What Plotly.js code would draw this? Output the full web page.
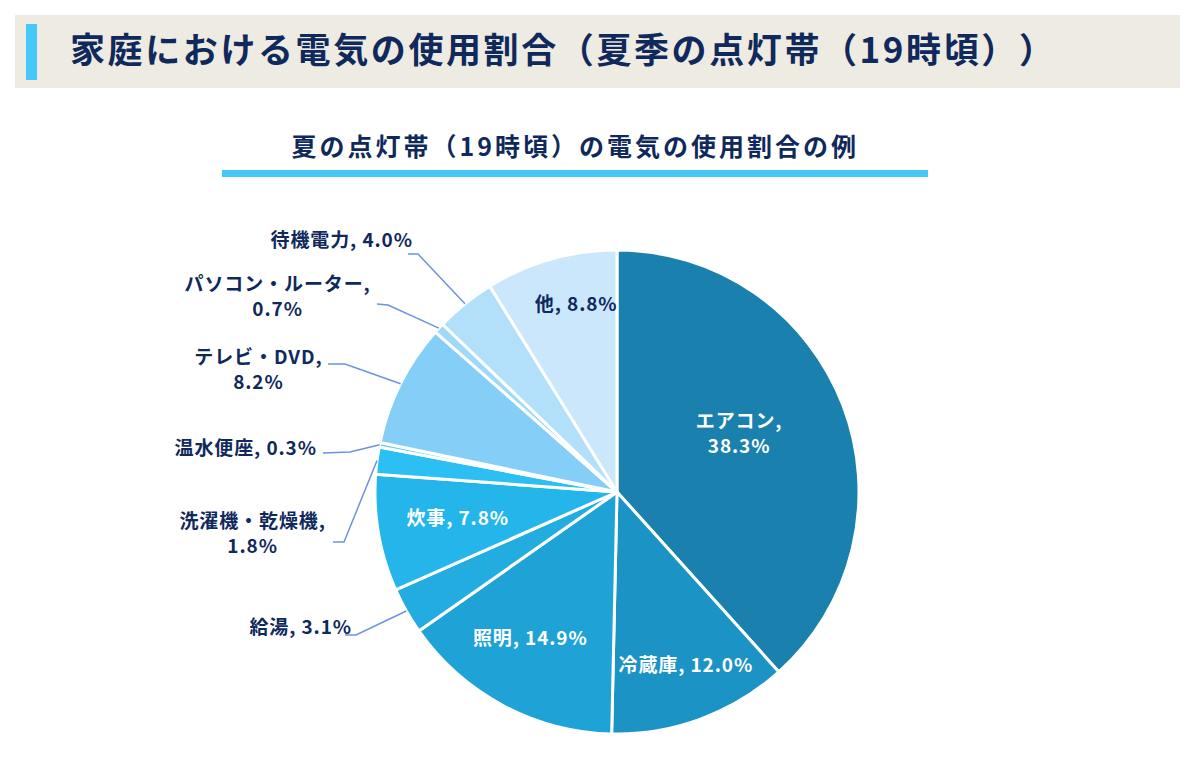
<!DOCTYPE html>
<html>
<head>
<meta charset="utf-8">
<script src="https://cdn.plot.ly/plotly-3.0.1.min.js"></script>
<style>
html,body{margin:0;padding:0;background:#fff;}
#chart{width:1200px;height:759px;}
#chart text{font-kerning:none;text-spacing-trim:space-all;}
</style>
</head>
<body>
<div id="chart"></div>
<script>
// ---- data ----
var categories = ["エアコン", "冷蔵庫", "照明", "給湯", "炊事", "洗濯機・乾燥機", "温水便座", "テレビ・DVD", "パソコン・ルーター", "待機電力", "他"];
var values = [38.3, 12.0, 14.9, 3.1, 7.8, 1.8, 0.3, 8.2, 0.7, 4.0, 8.8];
var mainTitle = "家庭における電気の使用割合（夏季の点灯帯（19時頃））";
var subTitle = "夏の点灯帯（19時頃）の電気の使用割合の例";

// ---- styles / layout ----
var W = 1200, H = 759;
var CX = 617, CY = 492, R = 242;
var colors = ["#1a80ad", "#1b93c4", "#1fa3d6", "#22acdf", "#24b6ea", "#2bbff3", "#62c8f5", "#84cef8", "#a0d8f9", "#b2dff9", "#cbe7fb"];
var navy = "#10295c";
var FONT = "'Noto Sans CJK JP', 'Noto Sans', sans-serif";
var labelStyle = [
  {pos:[739,432], br:true, color:"#ffffff"},
  {pos:[686,663], color:"#ffffff"},
  {pos:[530,636], color:"#ffffff"},
  {pos:[300,625], color:navy, leader:[[345,635],[356,635]]},
  {pos:[457,516], color:"#ffffff"},
  {pos:[252,532], br:true, color:navy, leader:[[333,542],[344,542]]},
  {pos:[245,446], color:navy, leader:[[323,453],[350,452]]},
  {pos:[258,368], br:true, color:navy, leader:[[328,364],[345,364]]},
  {pos:[277,295], br:true, color:navy, leader:[[377,304],[388,305]]},
  {pos:[342,238], color:navy, leader:[[408,254],[418,254]]},
  {pos:[576,302], color:navy}
];

function px(x){ return x / W; }
function py(y){ return 1 - y / H; }

var total = values.reduce(function(a,b){return a+b;}, 0);
var annotations = [];
var shapes = [
  {type:"rect", xref:"paper", yref:"paper", x0:px(15), x1:px(1180), y0:py(88), y1:py(15), fillcolor:"#eeebe3", line:{width:0}, layer:"below"},
  {type:"rect", xref:"paper", yref:"paper", x0:px(26), x1:px(37), y0:py(80), y1:py(24), fillcolor:"#45c8fb", line:{width:0}, layer:"below"},
  {type:"rect", xref:"paper", yref:"paper", x0:px(222), x1:px(928), y0:py(177), y1:py(170), fillcolor:"#45c8f5", line:{width:0}, layer:"below"}
];

var cum = 0;
for (var i = 0; i < values.length; i++) {
  var mid = (cum + values[i] / 2) / total * 2 * Math.PI;
  cum += values[i];
  var st = labelStyle[i];
  var txt = categories[i] + "," + (st.br ? "<br>" : " ") + values[i].toFixed(1) + "%";
  annotations.push({
    xref:"paper", yref:"paper", x:px(st.pos[0]), y:py(st.pos[1]),
    xanchor:"center", yanchor:"middle", showarrow:false, align:"center",
    text:txt, font:{family:FONT, size:19, color:st.color, weight:"bold"}
  });
  if (st.leader) {
    var ex = CX + R * Math.sin(mid), ey = CY - R * Math.cos(mid);
    var p0 = st.leader[0], p1 = st.leader[1];
    shapes.push({type:"path", xref:"paper", yref:"paper",
      path:"M " + px(p0[0]) + "," + py(p0[1]) + " L " + px(p1[0]) + "," + py(p1[1]) + " L " + px(ex) + "," + py(ey),
      line:{color:"#6f92e0", width:1.5}});
  }
}

annotations.push({
  xref:"paper", yref:"paper", x:px(575), y:py(145), xanchor:"center", yanchor:"middle",
  showarrow:false, text:subTitle, font:{family:FONT, size:25, color:navy, weight:"bold"}
});

var trace = {
  type:"pie", labels:categories, values:values, sort:false, direction:"clockwise", rotation:0,
  marker:{colors:colors, line:{color:"#ffffff", width:3}},
  textinfo:"none", hoverinfo:"label+percent", showlegend:false,
  domain:{x:[px(CX - R), px(CX + R)], y:[py(CY + R), py(CY - R)]}
};

var layout = {
  width:W, height:H, margin:{l:0, r:0, t:0, b:0},
  paper_bgcolor:"#ffffff", plot_bgcolor:"#ffffff",
  title:{text:mainTitle, x:px(70), xanchor:"left", xref:"paper", y:py(51), yanchor:"middle", yref:"paper",
    font:{family:FONT, size:35, color:navy, weight:"bold"}},
  annotations:annotations, shapes:shapes, showlegend:false
};

function spacing(gd) {
  var t = gd.querySelector("text.gtitle");
  if (t) t.style.letterSpacing = "2.6px";
  var ann = gd.querySelectorAll("text.annotation-text");
  for (var k = 0; k < ann.length; k++) {
    ann[k].style.letterSpacing = (k === ann.length - 1) ? "3px" : "0.9px";
  }
}

Plotly.newPlot("chart", [trace], layout, {displayModeBar:false, staticPlot:true}).then(spacing);
</script>
</body>
</html>
